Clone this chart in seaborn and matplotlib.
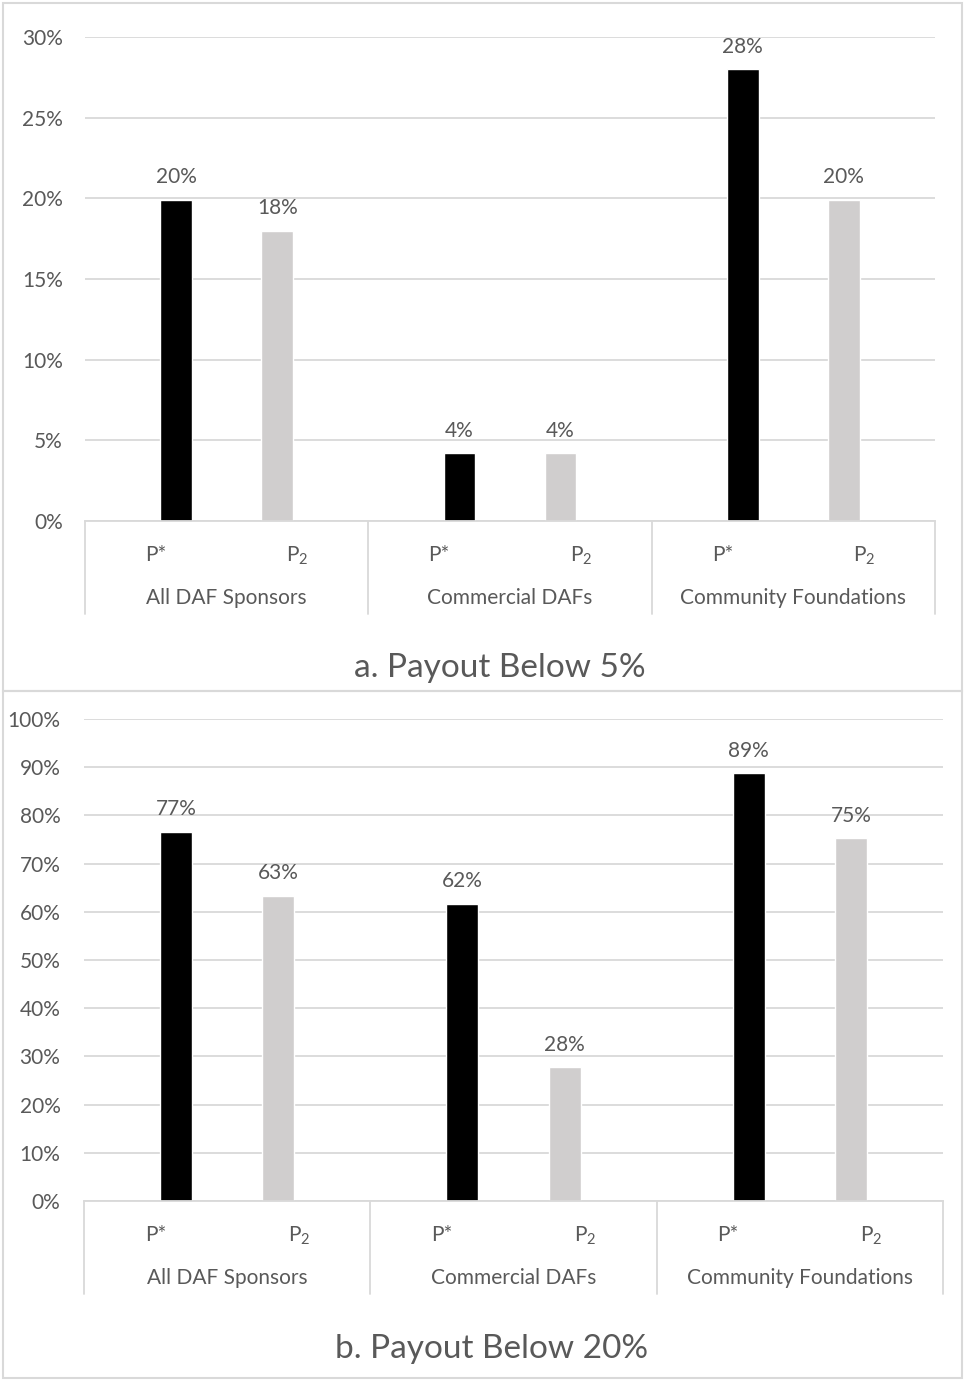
import numpy as np
import pandas as pd
import matplotlib
matplotlib.use("Agg")
import matplotlib.pyplot as plt
import seaborn as sns
from matplotlib.patches import Rectangle

# data (values in percent)
groups = ["All DAF Sponsors", "Commercial DAFs", "Community Foundations"]
subs = ["P*", r"P$_{2}$"]
below5 = [19.9, 18.0, 4.2, 4.2, 28.0, 19.9]
below20 = [76.6, 63.3, 61.7, 27.7, 88.7, 75.3]
titles = ["a. Payout Below 5%", "b. Payout Below 20%"]

TXT = "#595959"
GRID = "#d9d9d9"
BLACK = "#000000"
GRAY = "#d0cece"
FS = 15

sns.set_theme(style="white")
plt.rcParams["font.family"] = ["Lato", "DejaVu Sans"]
plt.rcParams["mathtext.fontset"] = "custom"
plt.rcParams["mathtext.rm"] = "Lato"
plt.rcParams["mathtext.it"] = "Lato"
plt.rcParams["mathtext.default"] = "regular"


def make_frame(values):
    rows = []
    i = 0
    for g in groups:
        for s in subs:
            rows.append({"slot": f"{g}|{s}", "group": g, "sub": s,
                         "value": values[i]})
            i += 1
    return pd.DataFrame(rows)


def draw_panel(ax, values, ymax, ystep, ypad):
    df = make_frame(values)
    slots = list(df["slot"])
    # gray series first so black sits right of centre, gray left (as in Excel)
    sns.barplot(data=df, x="slot", y="value", hue="sub",
                hue_order=[subs[1], subs[0]], order=slots, dodge=True,
                palette={subs[0]: BLACK, subs[1]: GRAY}, saturation=1,
                width=0.573, gap=0.22, errorbar=None, legend=False, ax=ax)
    ax.set_ylim(0, ymax)
    ax.set_xlim(-0.5, len(slots) - 0.5)
    ax.set_yticks(np.arange(0, ymax + 1, ystep))
    ax.set_yticklabels([f"{v:.0f}%" for v in np.arange(0, ymax + 1, ystep)])
    ax.yaxis.grid(True, color=GRID, lw=1.3)
    ax.set_axisbelow(True)
    ax.set_xticks(range(len(slots)))
    ax.set_xticklabels(list(df["sub"]))
    ax.tick_params(axis="x", length=0, pad=17, labelsize=FS, labelcolor=TXT)
    ax.tick_params(axis="y", length=0, pad=ypad, labelsize=FS, labelcolor=TXT)
    ax.set_xlabel("")
    ax.set_ylabel("")
    for sp in ["left", "top", "right"]:
        ax.spines[sp].set_visible(False)
    ax.spines["bottom"].set_color(GRID)
    ax.spines["bottom"].set_linewidth(1.3)

    for c in ax.containers:
        ax.bar_label(c, fmt=lambda v: f"{v:.0f}%", padding=9,
                     fontsize=FS, color=TXT)

    # multi-level category axis
    xf = ax.get_xaxis_transform()
    for b in np.arange(-0.5, len(slots), 2):
        ax.plot([b, b], [0, -0.193], transform=xf, color=GRID, lw=1.3,
                clip_on=False)
    for k, g in enumerate(groups):
        ax.annotate(g, xy=(2 * k + 0.5, 0), xycoords=xf,
                    xytext=(0, -55.5), textcoords="offset points",
                    ha="center", va="center", fontsize=FS, color=TXT)


fig = plt.figure(figsize=(9.64, 13.8), dpi=100)
W, H = 964, 1380

ax_a = fig.add_axes([85 / W, 1 - 521 / H, 850 / W, 484 / H])
ax_b = fig.add_axes([84 / W, 1 - 1201 / H, 859 / W, 482 / H])

draw_panel(ax_a, below5, 30, 5, 16)
draw_panel(ax_b, below20, 100, 10, 17)

# panel frames
for top, bot in [(3, 691), (691, 1378)]:
    fig.patches.append(Rectangle((3 / W, 1 - bot / H), 959 / W, (bot - top) / H,
                                 transform=fig.transFigure, fill=False,
                                 edgecolor=GRID, lw=1.5))

fig.text(500 / W, 1 - 668 / H, titles[0], ha="center", va="center",
         fontsize=24, color=TXT)
fig.text(492 / W, 1 - 1349 / H, titles[1], ha="center", va="center",
         fontsize=24, color=TXT)

fig.savefig("out.png", dpi=100, facecolor="white")
